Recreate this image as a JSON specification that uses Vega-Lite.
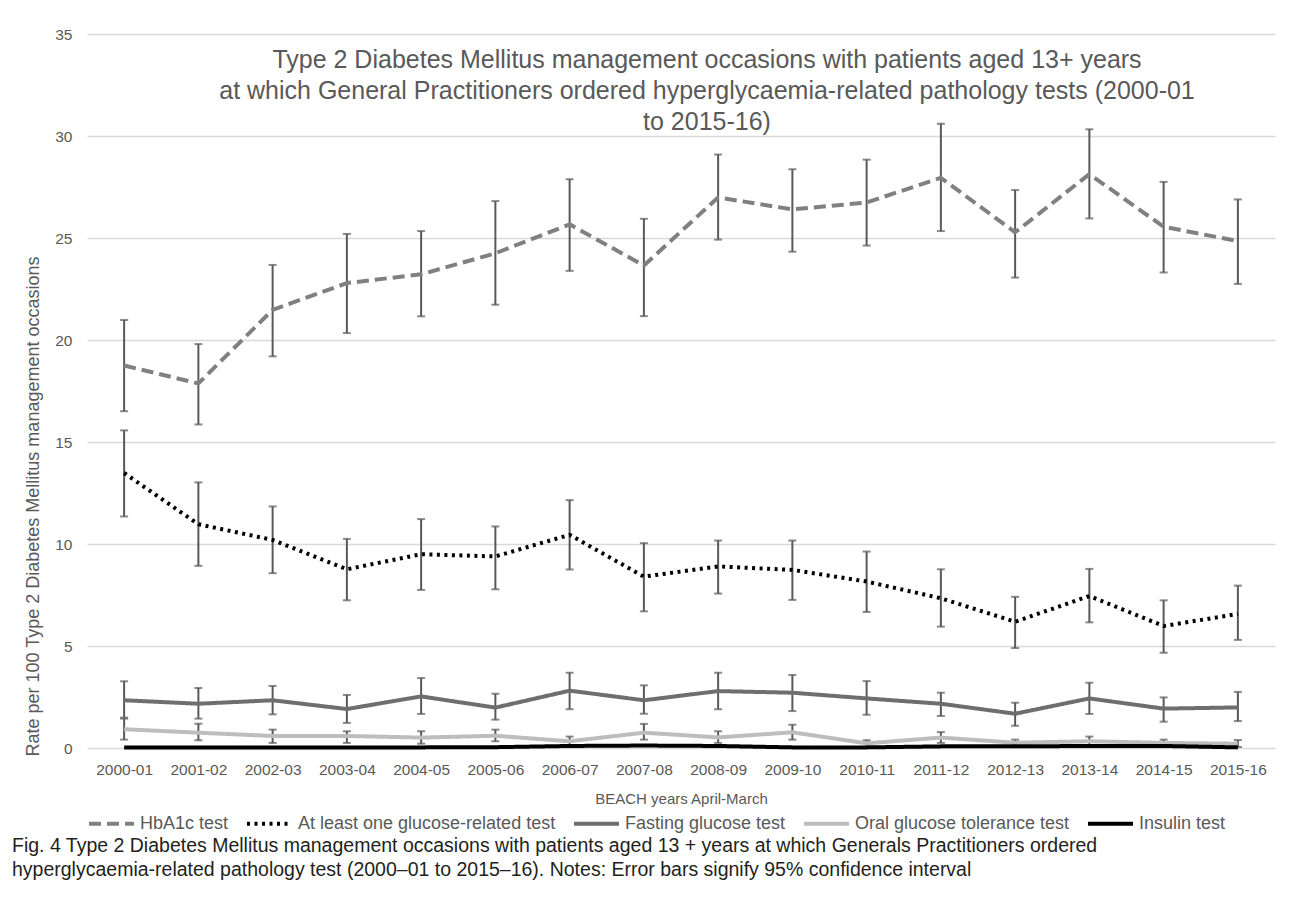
{
  "$schema": "https://vega.github.io/schema/vega-lite/v6.json",
  "width": 1188,
  "height": 714,
  "autosize": {"type": "none"},
  "padding": {"left": 87, "top": 34, "right": 20, "bottom": 154},
  "background": "white",
  "title": {
    "text": [
      "Fig. 4  Type 2 Diabetes Mellitus management occasions with patients aged 13 + years at which Generals Practitioners ordered",
      "hyperglycaemia-related pathology test (2000–01 to 2015–16). Notes: Error bars signify 95% confidence interval"
    ],
    "orient": "bottom",
    "anchor": "start",
    "frame": "group",
    "dx": -75,
    "offset": 4,
    "font": "Liberation Sans",
    "fontSize": 19.5,
    "fontWeight": "normal",
    "lineHeight": 24,
    "color": "#231f20"
  },
  "data": {
    "values": [
      {"year": "2000-01", "series": "HbA1c test", "rate": 18.75, "lower": 16.51, "upper": 20.98},
      {"year": "2001-02", "series": "HbA1c test", "rate": 17.87, "lower": 15.86, "upper": 19.8},
      {"year": "2002-03", "series": "HbA1c test", "rate": 21.48, "lower": 19.2, "upper": 23.68},
      {"year": "2003-04", "series": "HbA1c test", "rate": 22.79, "lower": 20.34, "upper": 25.2},
      {"year": "2004-05", "series": "HbA1c test", "rate": 23.22, "lower": 21.16, "upper": 25.34},
      {"year": "2005-06", "series": "HbA1c test", "rate": 24.25, "lower": 21.73, "upper": 26.81},
      {"year": "2006-07", "series": "HbA1c test", "rate": 25.67, "lower": 23.39, "upper": 27.88},
      {"year": "2007-08", "series": "HbA1c test", "rate": 23.65, "lower": 21.17, "upper": 25.94},
      {"year": "2008-09", "series": "HbA1c test", "rate": 26.99, "lower": 24.92, "upper": 29.09},
      {"year": "2009-10", "series": "HbA1c test", "rate": 26.4, "lower": 24.33, "upper": 28.37},
      {"year": "2010-11", "series": "HbA1c test", "rate": 26.74, "lower": 24.63, "upper": 28.84},
      {"year": "2011-12", "series": "HbA1c test", "rate": 27.95, "lower": 25.34, "upper": 30.6},
      {"year": "2012-13", "series": "HbA1c test", "rate": 25.28, "lower": 23.06, "upper": 27.35},
      {"year": "2013-14", "series": "HbA1c test", "rate": 28.13, "lower": 25.96, "upper": 30.33},
      {"year": "2014-15", "series": "HbA1c test", "rate": 25.55, "lower": 23.31, "upper": 27.75},
      {"year": "2015-16", "series": "HbA1c test", "rate": 24.85, "lower": 22.75, "upper": 26.89},

      {"year": "2000-01", "series": "At least one glucose-related test", "rate": 13.48, "lower": 11.35, "upper": 15.57},
      {"year": "2001-02", "series": "At least one glucose-related test", "rate": 10.97, "lower": 8.93, "upper": 13.02},
      {"year": "2002-03", "series": "At least one glucose-related test", "rate": 10.2, "lower": 8.57, "upper": 11.84},
      {"year": "2003-04", "series": "At least one glucose-related test", "rate": 8.76, "lower": 7.24, "upper": 10.25},
      {"year": "2004-05", "series": "At least one glucose-related test", "rate": 9.5, "lower": 7.75, "upper": 11.22},
      {"year": "2005-06", "series": "At least one glucose-related test", "rate": 9.39, "lower": 7.78, "upper": 10.86},
      {"year": "2006-07", "series": "At least one glucose-related test", "rate": 10.45, "lower": 8.75, "upper": 12.15},
      {"year": "2007-08", "series": "At least one glucose-related test", "rate": 8.4, "lower": 6.7, "upper": 10.04},
      {"year": "2008-09", "series": "At least one glucose-related test", "rate": 8.9, "lower": 7.57, "upper": 10.17},
      {"year": "2009-10", "series": "At least one glucose-related test", "rate": 8.73, "lower": 7.26, "upper": 10.17},
      {"year": "2010-11", "series": "At least one glucose-related test", "rate": 8.16, "lower": 6.67, "upper": 9.63},
      {"year": "2011-12", "series": "At least one glucose-related test", "rate": 7.34, "lower": 5.95, "upper": 8.76},
      {"year": "2012-13", "series": "At least one glucose-related test", "rate": 6.19, "lower": 4.9, "upper": 7.41},
      {"year": "2013-14", "series": "At least one glucose-related test", "rate": 7.45, "lower": 6.16, "upper": 8.78},
      {"year": "2014-15", "series": "At least one glucose-related test", "rate": 5.98, "lower": 4.67, "upper": 7.24},
      {"year": "2015-16", "series": "At least one glucose-related test", "rate": 6.57, "lower": 5.3, "upper": 7.96},

      {"year": "2000-01", "series": "Fasting glucose test", "rate": 2.34, "lower": 1.49, "upper": 3.27},
      {"year": "2001-02", "series": "Fasting glucose test", "rate": 2.17, "lower": 1.44, "upper": 2.94},
      {"year": "2002-03", "series": "Fasting glucose test", "rate": 2.34, "lower": 1.65, "upper": 3.04},
      {"year": "2003-04", "series": "Fasting glucose test", "rate": 1.91, "lower": 1.23, "upper": 2.6},
      {"year": "2004-05", "series": "Fasting glucose test", "rate": 2.53, "lower": 1.67, "upper": 3.43},
      {"year": "2005-06", "series": "Fasting glucose test", "rate": 1.98, "lower": 1.39, "upper": 2.66},
      {"year": "2006-07", "series": "Fasting glucose test", "rate": 2.81, "lower": 1.9, "upper": 3.69},
      {"year": "2007-08", "series": "Fasting glucose test", "rate": 2.34, "lower": 1.68, "upper": 3.07},
      {"year": "2008-09", "series": "Fasting glucose test", "rate": 2.79, "lower": 1.9, "upper": 3.69},
      {"year": "2009-10", "series": "Fasting glucose test", "rate": 2.71, "lower": 1.81, "upper": 3.58},
      {"year": "2010-11", "series": "Fasting glucose test", "rate": 2.43, "lower": 1.63, "upper": 3.28},
      {"year": "2011-12", "series": "Fasting glucose test", "rate": 2.17, "lower": 1.57, "upper": 2.71},
      {"year": "2012-13", "series": "Fasting glucose test", "rate": 1.68, "lower": 1.09, "upper": 2.22},
      {"year": "2013-14", "series": "Fasting glucose test", "rate": 2.43, "lower": 1.67, "upper": 3.2},
      {"year": "2014-15", "series": "Fasting glucose test", "rate": 1.93, "lower": 1.29, "upper": 2.48},
      {"year": "2015-16", "series": "Fasting glucose test", "rate": 1.99, "lower": 1.32, "upper": 2.75},

      {"year": "2000-01", "series": "Oral glucose tolerance test", "rate": 0.92, "lower": 0.41, "upper": 1.44},
      {"year": "2001-02", "series": "Oral glucose tolerance test", "rate": 0.75, "lower": 0.38, "upper": 1.19},
      {"year": "2002-03", "series": "Oral glucose tolerance test", "rate": 0.59, "lower": 0.25, "upper": 0.9},
      {"year": "2003-04", "series": "Oral glucose tolerance test", "rate": 0.59, "lower": 0.25, "upper": 0.82},
      {"year": "2004-05", "series": "Oral glucose tolerance test", "rate": 0.51, "lower": 0.21, "upper": 0.82},
      {"year": "2005-06", "series": "Oral glucose tolerance test", "rate": 0.6, "lower": 0.33, "upper": 0.9},
      {"year": "2006-07", "series": "Oral glucose tolerance test", "rate": 0.33, "lower": 0.11, "upper": 0.56},
      {"year": "2007-08", "series": "Oral glucose tolerance test", "rate": 0.75, "lower": 0.41, "upper": 1.18},
      {"year": "2008-09", "series": "Oral glucose tolerance test", "rate": 0.52, "lower": 0.25, "upper": 0.82},
      {"year": "2009-10", "series": "Oral glucose tolerance test", "rate": 0.77, "lower": 0.41, "upper": 1.14},
      {"year": "2010-11", "series": "Oral glucose tolerance test", "rate": 0.23, "lower": 0.05, "upper": 0.38},
      {"year": "2011-12", "series": "Oral glucose tolerance test", "rate": 0.51, "lower": 0.25, "upper": 0.78},
      {"year": "2012-13", "series": "Oral glucose tolerance test", "rate": 0.26, "lower": 0.08, "upper": 0.41},
      {"year": "2013-14", "series": "Oral glucose tolerance test", "rate": 0.33, "lower": 0.11, "upper": 0.56},
      {"year": "2014-15", "series": "Oral glucose tolerance test", "rate": 0.25, "lower": 0.08, "upper": 0.41},
      {"year": "2015-16", "series": "Oral glucose tolerance test", "rate": 0.21, "lower": 0.05, "upper": 0.39},

      {"year": "2000-01", "series": "Insulin test", "rate": 0.03, "lower": null, "upper": null},
      {"year": "2001-02", "series": "Insulin test", "rate": 0.03, "lower": null, "upper": null},
      {"year": "2002-03", "series": "Insulin test", "rate": 0.03, "lower": null, "upper": null},
      {"year": "2003-04", "series": "Insulin test", "rate": 0.03, "lower": null, "upper": null},
      {"year": "2004-05", "series": "Insulin test", "rate": 0.03, "lower": null, "upper": null},
      {"year": "2005-06", "series": "Insulin test", "rate": 0.04, "lower": null, "upper": null},
      {"year": "2006-07", "series": "Insulin test", "rate": 0.1, "lower": null, "upper": null},
      {"year": "2007-08", "series": "Insulin test", "rate": 0.12, "lower": null, "upper": null},
      {"year": "2008-09", "series": "Insulin test", "rate": 0.1, "lower": null, "upper": null},
      {"year": "2009-10", "series": "Insulin test", "rate": 0.03, "lower": null, "upper": null},
      {"year": "2010-11", "series": "Insulin test", "rate": 0.03, "lower": null, "upper": null},
      {"year": "2011-12", "series": "Insulin test", "rate": 0.08, "lower": null, "upper": null},
      {"year": "2012-13", "series": "Insulin test", "rate": 0.08, "lower": null, "upper": null},
      {"year": "2013-14", "series": "Insulin test", "rate": 0.1, "lower": null, "upper": null},
      {"year": "2014-15", "series": "Insulin test", "rate": 0.1, "lower": null, "upper": null},
      {"year": "2015-16", "series": "Insulin test", "rate": 0.03, "lower": null, "upper": null}
    ]
  },
  "encoding": {
    "x": {
      "field": "year", "type": "ordinal",
      "scale": {"type": "point", "padding": 0.5},
      "axis": {
        "title": "BEACH years April-March",
        "labelAngle": 0, "ticks": false, "domain": false,
        "labelPadding": 14, "titlePadding": 14, "titleFontSize": 15
      }
    }
  },
  "layer": [
    {
      "transform": [{"filter": "isValid(datum.lower)"}],
      "mark": {
        "type": "errorbar",
        "ticks": {"size": 8, "thickness": 2, "color": "#595959"},
        "rule": {"strokeWidth": 2, "color": "#595959"}
      },
      "encoding": {
        "y": {
          "field": "lower", "type": "quantitative",
          "title": "Rate per 100 Type 2 Diabetes Mellitus management occasions",
          "scale": {"domain": [0, 35], "nice": false}
        },
        "y2": {"field": "upper"},
        "detail": {"field": "series"}
      }
    },
    {
      "mark": {"type": "line", "strokeWidth": 4, "strokeCap": "butt", "strokeJoin": "round"},
      "encoding": {
        "y": {
          "field": "rate", "type": "quantitative",
          "title": "Rate per 100 Type 2 Diabetes Mellitus management occasions",
          "scale": {"domain": [0, 35], "nice": false},
          "axis": {
            "values": [0, 5, 10, 15, 20, 25, 30, 35],
            "ticks": false, "domain": false,
            "labelPadding": 15, "titlePadding": 12,
            "titleFontSize": 18, "titleY": 472
          }
        },
        "color": {
          "field": "series", "type": "nominal",
          "sort": ["HbA1c test", "At least one glucose-related test", "Fasting glucose test", "Oral glucose tolerance test", "Insulin test"],
          "scale": {
            "domain": ["HbA1c test", "At least one glucose-related test", "Fasting glucose test", "Oral glucose tolerance test", "Insulin test"],
            "range": ["#808080", "#000000", "#6e6e6e", "#bdbdbd", "#000000"]
          },
          "legend": {"title": null}
        },
        "strokeDash": {
          "field": "series", "type": "nominal",
          "sort": ["HbA1c test", "At least one glucose-related test", "Fasting glucose test", "Oral glucose tolerance test", "Insulin test"],
          "scale": {
            "domain": ["HbA1c test", "At least one glucose-related test", "Fasting glucose test", "Oral glucose tolerance test", "Insulin test"],
            "range": [[12, 6], [3, 4.5], [1, 0], [1, 0], [1, 0]]
          },
          "legend": {"title": null}
        }
      }
    },
    {
      "data": {"values": [{}]},
      "mark": {
        "type": "text", "align": "center", "baseline": "top",
        "fontSize": 25, "lineHeight": 31, "color": "#595959",
        "font": "Liberation Sans", "dx": 26
      },
      "encoding": {
        "x": {"value": {"expr": "width / 2"}},
        "y": {"datum": 34.31},
        "text": {"value": [
          "Type 2 Diabetes Mellitus management occasions with patients aged 13+ years",
          "at which General Practitioners ordered hyperglycaemia-related pathology tests (2000-01",
          "to 2015-16)"
        ]}
      }
    }
  ],
  "config": {
    "font": "Liberation Sans",
    "view": {"stroke": null},
    "axis": {
      "labelFont": "Liberation Sans", "labelFontSize": 15.5, "labelColor": "#595959",
      "titleFont": "Liberation Sans", "titleColor": "#595959",
      "titleFontWeight": "normal",
      "gridColor": "#d9d9d9", "gridWidth": 1.5
    },
    "axisX": {"grid": false},
    "legend": {
      "orient": "bottom", "direction": "horizontal",
      "offset": -8,
      "labelFont": "Liberation Sans", "labelFontSize": 18, "labelColor": "#595959",
      "symbolType": "stroke", "symbolSize": 2025, "symbolStrokeWidth": 4,
      "labelOffset": 4, "columnPadding": 10, "labelLimit": 400
    }
  }
}
